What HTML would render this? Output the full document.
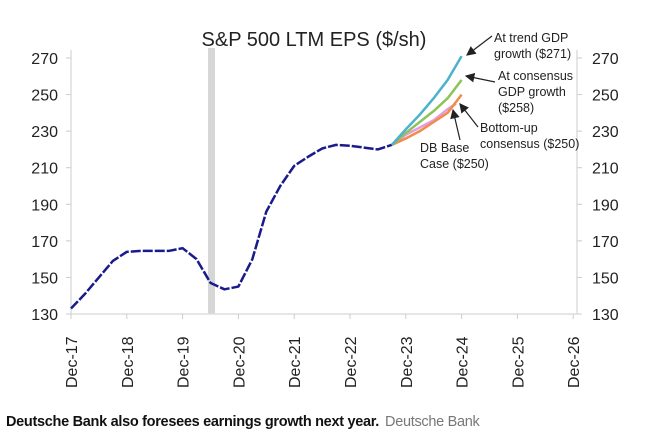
<!DOCTYPE html>
<html><head><meta charset="utf-8"><style>
body{margin:0;background:#fff;width:652px;height:446px;overflow:hidden;font-family:"Liberation Sans",sans-serif}
svg{position:absolute;left:0;top:0}
.cap{position:absolute;left:6px;top:414px;font-size:14.5px;color:#111;font-weight:bold;letter-spacing:-0.3px}
.cap span{font-weight:normal;color:#777;margin-left:6px}
</style></head><body>
<svg width="652" height="410" id="c"></svg>
<div class="cap">Deutsche Bank also foresees earnings growth next year.<span>Deutsche Bank</span></div>
<script>
const yTicks=[130,150,170,210,190,230,250,270];
const xLabels=["Dec-17","Dec-18","Dec-19","Dec-20","Dec-21","Dec-22","Dec-23","Dec-24","Dec-25","Dec-26"];
// quarterly, t in years since Dec-17
const histT=[0,0.25,0.5,0.75,1,1.25,1.5,1.75,2,2.25,2.5,2.75,3,3.25,3.5,3.75,4,4.25,4.5,4.75,5,5.25,5.5,5.75];
const histV=[133,141,150,159,164,164.5,164.5,164.5,166,160,147,143.5,145,160,186,200,211,216,220.5,222.5,222,221,220,222.5];
const fcT=[5.75,6,6.25,6.5,6.75,7];
const trendV=[222.5,231,239,248,258,271];
const consV=[222.5,229,235,241,248,258];
const bottomV=[222.5,226,230,235,240,250];
const baseV=[222.5,228,232,236,242,245];
const baseT=[5.75,6,6.25,6.5,6.75,6.9];
const svg=document.getElementById('c');
const NS="http://www.w3.org/2000/svg";
const x=t=>71+t*55.8, y=v=>314-(v-130)*256/140;
function el(tag,at,txt){const e=document.createElementNS(NS,tag);for(const k in at)e.setAttribute(k,at[k]);if(txt!=null)e.textContent=txt;svg.appendChild(e);return e;}
let r=el('rect',{x:208,y:48,width:7,height:266,fill:'#d6d6d6'});


let ax=el('path',{d:'M71,50V314H577V50',fill:'none',stroke:'#ddd','stroke-width':1.5});


yTicks.forEach(v=>{
 let a=el('text',{x:58,y:y(v)+6,'text-anchor':'end','font-size':16,fill:'#222'},v);
 
 
 let b=el('text',{x:592,y:y(v)+6,'font-size':16,fill:'#222'},v);
 
 
 el('line',{x1:66,x2:71,y1:y(v),y2:y(v),stroke:'#ccc'});
 el('line',{x1:577,x2:582,y1:y(v),y2:y(v),stroke:'#ccc'});
});
xLabels.forEach((l,i)=>{
 el('line',{x1:x(i),x2:x(i),y1:314,y2:319,stroke:'#ccc'});
 let t=el('text',{transform:`translate(${x(i)+6},388) rotate(-90)`,'font-size':16,fill:'#222'},l);
 
 
});
function line(T,V,col,name,dash){
 const p=el('polyline',{points:T.map((t,i)=>x(t)+','+y(V[i])).join(' '),fill:'none',stroke:col,'stroke-width':2.5,'stroke-linejoin':'round'});
 if(dash)p.setAttribute('stroke-dasharray',dash);
 
 
}
line(histT,histV,'#1a1a8c','historical-eps-line','10 2');
line(baseT,baseV,'#e59be0','db-base-case-line');
line(fcT,bottomV,'#f08c4a','bottom-up-consensus-line');
line(fcT,consV,'#8dc45a','consensus-gdp-line');
line(fcT,trendV,'#4bb3cc','trend-gdp-line');
let ti=el('text',{x:314,y:46,'text-anchor':'middle','font-size':20,fill:'#222'},'S&P 500 LTM EPS ($/sh)');


const notes=[[494,42,'At trend GDP'],[494,58,'growth ($271)'],[498,80,'At consensus'],[498,96,'GDP growth'],[498,112,'($258)'],[480,132,'Bottom-up'],[480,148,'consensus ($250)'],[420,152,'DB Base'],[420,168,'Case ($250)']];
notes.forEach(n=>{let t=el('text',{x:n[0],y:n[1],'font-size':12.5,fill:'#222'},n[2]);
 
 });
const arrows=[[492,36,467,55],[495,82,466,76],[478,127,460,104],[460,140,453,110]];
el('defs',{}).innerHTML='<marker id="ah" markerWidth="8" markerHeight="8" refX="7" refY="4" orient="auto"><path d="M0,0L8,4L0,8z" fill="#222"/></marker>';
arrows.forEach(a=>{let l=el('line',{x1:a[0],y1:a[1],x2:a[2],y2:a[3],stroke:'#222','stroke-width':1.2,'marker-end':'url(#ah)'});
 
 });
</script>
</body></html>
